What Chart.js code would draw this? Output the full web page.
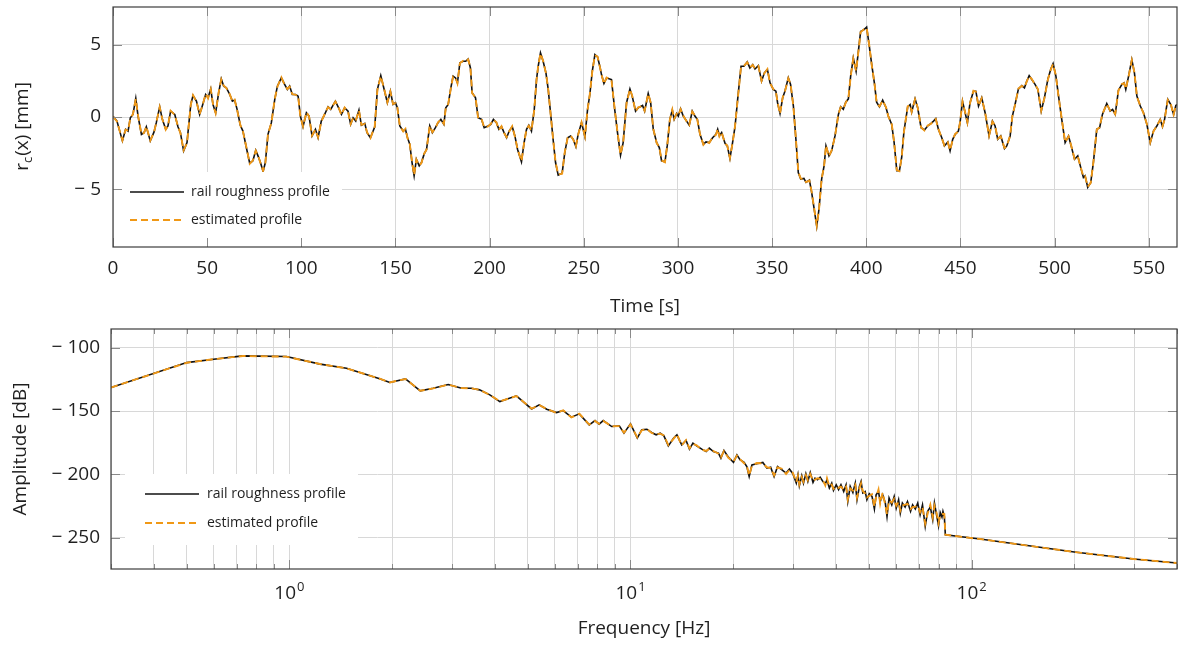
<!DOCTYPE html>
<html>
<head>
<meta charset="utf-8">
<script src="https://cdn.jsdelivr.net/npm/chart.js@4.4.1/dist/chart.umd.min.js"></script>
<style>
html, body { margin: 0; padding: 0; background: #fff; }
.panel { position: absolute; left: 0; width: 1178px; }
#topPanel { top: 0; height: 325px; }
#bottomPanel { top: 325px; height: 320px; }
</style>
</head>
<body>
<div class="panel" id="topPanel"><canvas id="profileChart"></canvas></div>
<div class="panel" id="bottomPanel"><canvas id="spectrumChart"></canvas></div>
<script>
// time axis [s]
var timeS = [
	0, 2.1, 5.0, 6.7, 8.0, 9.2, 10.6, 12.1, 13.3, 15.1, 16.5, 17.7, 19.8, 21.8, 23.0, 24.8, 26.2, 28.0, 29.2, 30.6, 32.8, 34.5, 35.8, 37.5, 39.3, 41.3, 42.5, 44.3, 46.0, 47.5, 49.2, 50.5, 51.9, 53.1, 54.5, 56.1, 57.5, 58.8, 60.2, 62.0, 63.4, 64.6, 65.9, 67.6, 69.0, 70.8, 72.6, 74.3, 75.8, 77.0, 78.3, 79.7, 80.9, 82.3, 84.1, 85.9, 87.3, 89.4, 91.2, 92.6, 93.8, 95.2, 97.0, 98.3, 99.5, 100.9, 102.7, 104.1, 105.7, 107.5, 108.9, 110.6, 112.4, 114.2, 115.6, 118.1, 119.8, 121.3, 123.0, 124.8, 126.2, 127.5, 128.9, 130.6, 131.9, 133.7, 134.9, 136.7, 139.0,
	140.4, 142.2, 144.0, 145.7, 147.3, 148.7, 150.0, 151.0, 152.3, 154.1, 155.3, 156.4, 157.6, 158.8, 159.9, 161.1, 162.6, 163.8, 165.2, 166.5, 168.2, 169.6, 171.2, 172.6, 174.1, 175.7, 176.7, 178.0, 179.4, 180.6, 181.9, 182.9, 184.2, 185.9, 187.3, 188.6, 189.8, 190.7, 192.5, 193.9, 195.7, 197.1, 199.2, 200.6, 202.0, 203.6, 204.9, 206.3, 207.5, 209.0, 210.4, 212.0, 213.4, 214.8, 216.9, 218.3, 219.6, 220.8, 222.2, 223.7, 224.9, 225.8, 227.0, 228.4, 229.9, 231.1, 232.5, 233.7, 235.0, 236.4, 238.5, 239.9, 241.4, 243.0, 244.4, 245.8, 247.0, 248.8, 250.6, 252.0, 253.2, 254.5, 255.9, 257.3, 258.5, 259.4, 260.7, 262.1, 264.7, 266.2, 267.9, 269.5, 270.9, 272.7, 274.5, 275.7, 277.5, 278.9,
	281.2, 282.3, 284.2, 285.5, 286.9, 288.7, 290.1, 291.3, 293.1, 294.3, 295.7, 297.0, 298.0, 299.3, 300.2, 301.4, 302.8, 304.6, 306.0, 307.6, 309.0, 310.3, 311.7, 313.5, 314.9, 316.6, 318.4, 320.2, 321.1, 322.0, 323.2, 325.0, 326.2, 327.6, 329.0, 330.3, 331.7, 333.5, 335.1, 336.8, 338.2, 339.7, 340.9, 342.7, 344.4, 345.9, 347.5, 348.9, 350.6, 352.0, 352.9, 354.2, 355.6, 356.8, 358.6, 359.8, 361.3, 362.5, 363.9, 365.2, 366.9, 368.0, 369.8, 371.0, 372.2, 373.7, 374.9, 376.3, 377.6, 378.6, 380.2, 381.6, 383.4, 385.2, 386.4, 387.8, 389.1, 390.5, 391.7, 393.1, 394.6, 395.8, 397.0, 398.8, 400.2, 401.5, 402.9, 404.3, 405.5, 407.0, 408.7, 410.5, 411.7, 413.5, 414.8, 416.2, 417.6, 418.8, 420.0,
	422.0, 423.3, 424.1, 425.9, 427.3, 429.1, 430.9, 432.6, 434.4, 435.7, 436.9, 438.3, 440.1, 441.5, 443.3, 444.5, 445.9, 447.2, 448.9, 449.8, 451.1, 452.5, 453.7, 455.1, 456.9, 458.2, 459.6, 461.3, 463.1, 465.2, 467.0, 468.4, 469.8, 471.4, 473.4, 474.6, 476.4, 477.6, 479.0, 480.8, 482.6, 484.0, 485.2, 486.5, 487.9, 489.7, 491.1, 492.9, 494.6, 496.4, 498.0, 499.2, 500.7, 502.1, 503.8, 505.6, 507.4, 508.8, 510.6, 512.3, 514.1, 515.3, 516.2, 517.6, 519.2, 520.6, 522.4, 523.9, 525.4, 527.7, 529.5, 530.8, 532.2, 533.9, 535.7, 536.9, 537.8, 539.3, 541.0, 542.4, 543.7, 545.5, 547.2, 549.0, 550.8, 552.5, 554.3, 556.1, 557.3, 558.4, 560.1, 561.7, 563.2, 564.4, 565.0
];

// rail roughness profile r_c(x) [mm]
var roughProfile = [
	0.05, -0.28, -1.65, -0.85, -0.97, -0.05, 0.18, 1.29, 0.07, -1.2, -1.08, -0.67, -1.65, -1.03, -0.39, 0.71, -0.16, -0.85, -0.62, 0.41, 0.18, -0.67, -1.08, -2.34, -1.77, 0.87, 1.49, 1.1, 0.18, 0.8, 1.56, 1.33, 1.95, 0.87, 0.3, 1.68, 2.64, 2.14, 2.02, 1.56, 1.1, 1.17, 0.53, -0.57, -0.97, -2.11, -3.2, -3.03, -2.3, -2.69, -3.15, -3.77, -3.15, -1.2, -0.39, 1.22, 2.14, 2.71, 2.25, 1.91, 2.14, 1.56, 1.56, 1.45, 0.07, -0.67, 0.3, 0.07, -1.31, -0.85, -1.43, -0.28, 0.18, 0.71, 0.53, 1.1, 0.64, 0.18, 0.64, 0.41, -0.51, -0.05, -0.28, 0.48, -0.57, -0.44, -1.08, -1.43, -0.68,
	1.91, 2.87, 1.91, 0.99, 1.79, 0.87, 0.99, 0.64, -0.62, -0.97, -0.85, -1.43, -1.89, -3.15, -4.07, -2.92, -3.38, -3.15, -2.57, -2.23, -0.62, -1.08, -0.74, -0.39, -0.16, -0.51, 0.64, 0.87, 2.02, 2.83, 2.71, 2.37, 3.75, 3.86, 3.86, 4.02, 3.4, 1.68, 1.33, -0.05, -0.16, -0.74, -0.62, -0.51, -0.16, -0.39, -0.85, -0.67, -1.03, -1.43, -0.97, -0.67, -1.31, -2.23, -3.1, -1.77, -0.85, -0.57, -0.97, 0.53, 2.6, 3.52, 4.44, 3.86, 3.06, 1.91, 0.07, -1.54, -3.15, -4.02, -3.89, -2.46, -1.43, -1.31, -1.54, -2.05, -1.2, -0.39, -1.36, 0.53, 1.56, 3.17, 4.32, 4.16, 3.52, 2.94, 2.32, 2.71, 2.6, 0.76, -1.08, -2.64, -1.77, 0.99, 1.95, 1.45, 0.41, 0.64,
	0.8, 0.41, 1.63, 0.99, -0.85, -1.77, -2.11, -3.03, -3.1, -2.0, -0.16, 0.48, -0.16, 0.25, 0.07, 0.57, 0.07, -0.28, -0.57, 0.41, 0.07, -0.16, -1.2, -1.89, -1.72, -1.77, -1.43, -1.2, -0.85, -1.31, -1.08, -1.82, -2.0, -2.87, -1.77, -0.67, 1.22, 3.52, 3.52, 3.82, 3.4, 3.63, 3.33, 3.56, 2.48, 3.06, 3.29, 2.37, 1.91, 1.79, 0.99, 0.25, 1.33, 1.79, 2.71, 2.25, 0.76, -1.31, -3.84, -4.3, -4.25, -4.53, -4.37, -5.22, -6.25, -7.56, -6.37, -4.3, -3.38, -2.0, -2.69, -2.34, -1.31, 0.18, 0.71, 0.53, 1.03, 1.26, 2.83, 4.09, 3.17, 4.55, 5.93, 6.05, 6.23, 5.01, 3.63, 2.37, 1.03, 0.71, 1.17, 0.64, 0.07, -0.51, -1.77, -3.72, -3.72, -2.8, -1.0,
	0.71, 0.87, 0.34, 1.26, 0.64, -0.74, -0.9, -0.62, -0.44, -0.28, -0.11, -0.85, -1.43, -2.0, -1.72, -2.34, -1.54, -1.2, -0.97, -0.39, 1.1, 0.3, -0.39, 0.99, 1.79, 1.79, 0.76, 1.33, 0.3, -1.31, -0.28, -0.62, -1.54, -1.31, -2.18, -2.0, -1.31, 0.07, 0.87, 1.95, 2.18, 2.02, 2.48, 2.87, 2.6, 2.25, 1.91, 0.41, 1.33, 2.6, 3.33, 3.7, 2.83, 1.45, -0.16, -1.77, -1.31, -2.0, -2.92, -2.69, -3.61, -4.18, -4.07, -4.87, -4.53, -3.15, -0.85, -0.74, 0.18, 0.94, 0.41, 0.53, 0.18, 1.86, 2.25, 2.37, 1.91, 2.83, 3.98, 3.06, 1.45, 0.76, 0.3, -0.51, -1.77, -0.97, -0.62, -0.16, -0.67, -0.16, 1.22, 0.87, 0.18, 0.8, 0.87
];

// estimated profile [mm]
var estProfile = [
	0.03, -0.3, -1.62, -0.87, -0.95, -0.08, 0.2, 1.25, 0.1, -1.18, -1.1, -0.65, -1.62, -1.05, -0.36, 0.68, -0.14, -0.88, -0.6, 0.44, 0.15, -0.65, -1.11, -2.3, -1.8, 0.85, 1.52, 1.07, 0.2, 0.78, 1.6, 1.3, 1.92, 0.9, 0.27, 1.7, 2.6, 2.17, 2.0, 1.58, 1.08, 1.2, 0.5, -0.55, -1.0, -2.08, -3.23, -3.0, -2.33, -2.66, -3.18, -3.72, -3.18, -1.17, -0.42, 1.25, 2.1, 2.74, 2.22, 1.94, 2.1, 1.59, 1.53, 1.48, 0.04, -0.64, 0.33, 0.04, -1.28, -0.88, -1.4, -0.31, 0.21, 0.68, 0.56, 1.07, 0.67, 0.15, 0.66, 0.38, -0.48, -0.08, -0.25, 0.45, -0.54, -0.47, -1.05, -1.46, -0.65,
	1.88, 2.83, 1.94, 1.02, 1.76, 0.9, 0.96, 0.67, -0.6, -1.0, -0.82, -1.46, -1.86, -3.12, -4.02, -2.95, -3.35, -3.18, -2.54, -2.26, -0.6, -1.05, -0.77, -0.36, -0.19, -0.48, 0.61, 0.9, 1.99, 2.8, 2.74, 2.34, 3.72, 3.89, 3.83, 3.98, 3.43, 1.65, 1.36, -0.08, -0.13, -0.71, -0.65, -0.48, -0.19, -0.36, -0.88, -0.64, -1.06, -1.4, -1.0, -0.64, -1.34, -2.2, -3.06, -1.8, -0.82, -0.6, -0.94, 0.5, 2.57, 3.55, 4.4, 3.89, 3.03, 1.94, 0.04, -1.51, -3.12, -3.98, -3.92, -2.43, -1.46, -1.28, -1.57, -2.02, -1.23, -0.36, -1.33, 0.5, 1.59, 3.14, 4.28, 4.19, 3.49, 2.97, 2.29, 2.74, 2.57, 0.79, -1.05, -2.6, -1.8, 0.96, 1.92, 1.48, 0.38, 0.67,
	0.77, 0.44, 1.6, 1.02, -0.82, -1.8, -2.08, -3.0, -3.13, -1.97, -0.19, 0.51, -0.13, 0.22, 0.1, 0.54, 0.1, -0.31, -0.54, 0.38, 0.1, -0.19, -1.17, -1.92, -1.69, -1.8, -1.4, -1.23, -0.82, -1.34, -1.05, -1.85, -1.97, -2.83, -1.8, -0.64, 1.19, 3.48, 3.55, 3.78, 3.43, 3.6, 3.36, 3.53, 2.51, 3.03, 3.32, 2.34, 1.94, 1.76, 1.02, 0.22, 1.36, 1.76, 2.68, 2.28, 0.73, -1.28, -3.8, -4.27, -4.28, -4.5, -4.4, -5.18, -6.2, -7.5, -6.4, -4.27, -3.41, -1.97, -2.72, -2.31, -1.34, 0.21, 0.68, 0.56, 1.0, 1.29, 2.8, 4.05, 3.2, 4.51, 5.88, 6.08, 6.18, 5.04, 3.6, 2.4, 1.0, 0.74, 1.14, 0.67, 0.04, -0.48, -1.74, -3.68, -3.75, -2.77, -1.03,
	0.74, 0.84, 0.37, 1.23, 0.67, -0.71, -0.93, -0.59, -0.47, -0.25, -0.14, -0.82, -1.46, -1.97, -1.75, -2.3, -1.57, -1.17, -1.0, -0.36, 1.07, 0.33, -0.36, 0.96, 1.82, 1.76, 0.79, 1.3, 0.33, -1.28, -0.31, -0.59, -1.51, -1.34, -2.14, -2.03, -1.28, 0.1, 0.84, 1.98, 2.15, 2.05, 2.45, 2.84, 2.63, 2.22, 1.94, 0.44, 1.3, 2.57, 3.3, 3.66, 2.86, 1.42, -0.13, -1.74, -1.34, -1.97, -2.89, -2.72, -3.58, -4.14, -4.1, -4.82, -4.56, -3.12, -0.88, -0.71, 0.21, 0.91, 0.44, 0.5, 0.21, 1.83, 2.28, 2.34, 1.94, 2.8, 3.94, 3.09, 1.42, 0.79, 0.27, -0.48, -1.74, -1.0, -0.59, -0.19, -0.64, -0.19, 1.19, 0.9, 0.15, 0.83, 0.84
];

// frequency axis [Hz]
var freqHz = [
	0.30, 0.50, 0.60, 0.73, 0.98, 1.23, 1.47, 1.84, 1.97, 2.19,
	2.42, 2.64, 2.92, 3.20, 3.42, 3.61, 3.87, 4.14, 4.63, 5.13,
	5.40, 5.68, 6.07, 6.35, 6.71, 7.08, 7.57, 7.87, 8.09, 8.32,
	8.81, 9.27, 9.57, 10.0, 10.47, 10.79, 11.17, 11.53, 11.89, 12.22,
	12.53, 12.91, 13.37, 13.68, 14.13, 14.55, 14.89, 15.24, 15.63, 16.18,
	16.67, 17.02, 17.50, 18.11, 18.41, 18.79, 19.36, 20.04, 20.51, 20.94,
	21.53, 21.93, 22.28, 22.70, 23.44, 24.43, 25.12, 25.76, 26.36, 26.98,
	27.80, 28.58, 29.24, 29.92, 30.62, 30.97, 31.26, 31.77, 32.14, 32.66,
	33.11, 33.65, 34.28, 34.75, 35.32, 35.97, 36.64, 37.24, 37.67, 38.28,
	38.90, 39.36, 40.09, 40.74, 41.40, 42.17, 42.85, 43.35, 44.06, 44.87,
	45.60, 46.13, 46.88, 47.42, 47.97, 48.75, 49.32, 50.12, 51.05, 51.88,
	52.48, 53.33, 53.95, 54.83, 55.85, 56.49, 57.28, 58.34, 59.29, 60.12,
	61.09, 61.80, 62.66, 63.83, 64.86, 66.22, 67.14, 68.39, 69.50, 70.63,
	71.78, 73.11, 74.30, 75.68, 76.91, 77.80, 79.07, 79.98, 80.91, 81.85,
	82.41, 83.18, 83.75, 105.9, 200, 298.5, 400
];

// amplitude spectrum [dB]
var roughSpec = [
	-131.5, -111.8, -109.2, -106.5, -107.0, -113.0, -116.2, -124.6, -127.5, -124.6,
	-134.1, -132.0, -129.1, -132.0, -132.0, -133.3, -137.2, -142.5, -138.0, -148.3,
	-145.1, -148.5, -151.2, -149.6, -154.8, -152.2, -160.9, -157.5, -160.3, -157.5,
	-162.2, -161.7, -167.4, -160.1, -171.3, -164.8, -164.3, -166.9, -168.7, -167.4,
	-169.5, -177.4, -171.4, -168.7, -176.6, -173.2, -180.0, -175.3, -177.4, -180.0,
	-181.9, -179.2, -181.9, -183.1, -187.1, -181.1, -186.3, -190.5, -184.5, -188.4,
	-190.5, -193.7, -201.6, -192.4, -191.6, -190.5, -195.0, -194.2, -201.6, -193.7,
	-196.3, -198.9, -195.7, -199.4, -206.8, -200.2, -208.9, -201.0, -206.8, -199.4,
	-205.5, -198.4, -206.3, -202.9, -204.2, -202.1, -205.5, -207.3, -204.2, -210.7,
	-206.8, -212.6, -208.1, -212.0, -208.1, -213.4, -208.1, -221.3, -209.4, -214.2,
	-206.8, -219.9, -209.4, -205.5, -214.6, -213.4, -219.9, -215.2, -217.3, -227.2,
	-216.0, -213.4, -221.3, -216.0, -222.5, -233.1, -218.6, -223.9, -217.3, -226.5,
	-219.9, -230.4, -222.5, -225.7, -221.3, -229.1, -223.9, -227.2, -222.5, -231.7,
	-223.9, -240.9, -229.1, -225.7, -235.7, -222.5, -233.1, -240.4, -229.9, -233.5,
	-229.1, -233.1, -247.5, -250.9, -261.1, -266.6, -269.8
];

var estSpec = [
	-131.4, -111.9, -109.1, -106.6, -107.1, -112.9, -116.3, -124.5, -127.4, -124.7,
	-134.0, -132.1, -129.2, -131.9, -132.1, -133.2, -137.3, -142.3, -138.2, -148.1,
	-145.3, -148.3, -151.4, -149.4, -155.0, -152.0, -160.6, -157.8, -160.0, -157.8,
	-162.0, -161.9, -167.0, -160.5, -170.8, -165.2, -164.0, -167.2, -168.4, -167.8,
	-169.2, -176.8, -171.9, -168.3, -177.1, -172.8, -179.4, -175.8, -177.0, -180.5,
	-181.4, -179.8, -181.5, -183.6, -186.5, -181.6, -186.9, -189.8, -185.1, -188.0,
	-191.1, -193.1, -200.9, -193.0, -191.0, -191.2, -194.3, -194.9, -200.8, -194.4,
	-195.6, -199.6, -196.4, -198.7, -205.9, -201.1, -207.8, -202.0, -205.7, -200.5,
	-204.4, -199.6, -205.0, -204.1, -203.0, -203.4, -204.3, -208.6, -203.0, -209.4,
	-208.0, -211.3, -209.5, -210.6, -209.6, -212.0, -209.6, -219.6, -210.9, -212.6,
	-208.4, -218.2, -211.0, -207.0, -213.0, -215.0, -218.2, -216.8, -215.6, -225.4,
	-217.7, -211.8, -223.0, -214.3, -224.2, -231.2, -220.4, -222.1, -219.1, -224.6,
	-221.7, -228.5, -224.4, -223.8, -223.2, -227.2, -225.8, -225.3, -224.4, -229.8,
	-225.8, -238.7, -231.0, -223.8, -233.6, -224.5, -231.0, -238.3, -231.9, -231.4,
	-231.0, -231.2, -247.5, -250.9, -261.1, -266.6, -269.8
];

var seriesNames = ['rail roughness profile', 'estimated profile'];

var FONT = '"Open Sans", "DejaVu Sans", sans-serif';
var INK = '#1f1f1f';
var GRID = '#d8d8d8';
var ORANGE = 'rgb(240,152,22)';

Chart.defaults.font.family = FONT;
Chart.defaults.color = INK;

function points(xs, ys)
{
	return xs.map(function (x, i) { return {x: x, y: ys[i]}; });
}

function minusLabel(value)
{
	return value < 0 ? '\u2212 ' + (-value) : String(value);
}

function isDecade(v)
{
	var l = Math.log10(v);
	return Math.abs(l - Math.round(l)) < 1e-9;
}

function lineSets(xs, a, b)
{
	return [
		{label: seriesNames[0], data: points(xs, a), borderColor: '#111', borderWidth: 1.6, order: 1},
		{label: seriesNames[1], data: points(xs, b), borderColor: ORANGE, borderWidth: 1.9, borderDash: [7, 4], order: 0}
	];
}

// fixed axis boxes, no edge padding for labels
function fixWidth(w)
{
	return function (s) { s.width = w; s.paddingTop = 0; s.paddingBottom = 0; };
}

function fixHeight(h)
{
	return function (s) { s.height = h; s.paddingLeft = 0; s.paddingRight = 0; };
}

// white inset legend drawn over the curves
var insetLegend = {
	id: 'insetLegend',
	afterDatasetsDraw: function (chart, args, opts)
	{
		var ctx = chart.ctx;
		ctx.save();
		ctx.fillStyle = '#fff';
		ctx.fillRect(opts.box[0], opts.box[1], opts.box[2], opts.box[3]);
		chart.data.datasets.forEach(function (ds, i)
		{
			var y = opts.rows[i];
			ctx.beginPath();
			ctx.strokeStyle = ds.borderColor;
			ctx.lineWidth = ds.borderWidth;
			ctx.setLineDash(ds.borderDash || []);
			ctx.moveTo(opts.lineX[0], y);
			ctx.lineTo(opts.lineX[1], y);
			ctx.stroke();
			ctx.setLineDash([]);
			ctx.fillStyle = INK;
			ctx.font = '14px ' + FONT;
			ctx.textBaseline = 'middle';
			ctx.fillText(ds.label, opts.textX, y);
		});
		ctx.restore();
	}
};

// box frame plus inward tick marks on all four sides
var frame = {
	id: 'frame',
	afterDraw: function (chart)
	{
		var ctx = chart.ctx, a = chart.chartArea;
		var xs = chart.scales.x, ys = chart.scales.y;
		ctx.save();
		ctx.strokeStyle = '#8a8a8a';
		ctx.lineWidth = 1;
		xs.ticks.forEach(function (t)
		{
			var len = (xs.type !== 'logarithmic' || isDecade(t.value)) ? 9 : 5;
			var px = Math.round(xs.getPixelForValue(t.value)) + 0.5;
			ctx.beginPath();
			ctx.moveTo(px, a.bottom); ctx.lineTo(px, a.bottom - len);
			ctx.moveTo(px, a.top); ctx.lineTo(px, a.top + len);
			ctx.stroke();
		});
		ys.ticks.forEach(function (t)
		{
			var py = Math.round(ys.getPixelForValue(t.value)) + 0.5;
			ctx.beginPath();
			ctx.moveTo(a.left, py); ctx.lineTo(a.left + 9, py);
			ctx.moveTo(a.right, py); ctx.lineTo(a.right - 9, py);
			ctx.stroke();
		});
		ctx.strokeStyle = '#3c3c3c';
		ctx.lineWidth = 1.2;
		ctx.strokeRect(a.left, a.top, a.right - a.left, a.bottom - a.top);
		ctx.restore();
	}
};

// y title with subscript: r_c(x) [mm]
var subTitle = {
	id: 'subTitle',
	afterDraw: function (chart, args, opts)
	{
		if (!opts.base)
			return;
		var ctx = chart.ctx, a = chart.chartArea;
		var big = '19px ' + FONT, small = '13px ' + FONT;
		ctx.save();
		ctx.translate(opts.x, (a.top + a.bottom) / 2);
		ctx.rotate(-Math.PI / 2);
		ctx.fillStyle = INK;
		ctx.textBaseline = 'middle';
		ctx.font = big;
		var w1 = ctx.measureText(opts.base).width;
		var w3 = ctx.measureText(opts.rest).width;
		ctx.font = small;
		var w2 = ctx.measureText(opts.sub).width;
		var x = -(w1 + w2 + w3) / 2;
		ctx.font = big;
		ctx.fillText(opts.base, x, 0);
		ctx.font = small;
		ctx.fillText(opts.sub, x + w1, 5);
		ctx.font = big;
		ctx.fillText(opts.rest, x + w1 + w2 + 1, 0);
		ctx.restore();
	}
};

// decade labels 10^k under the log axis
var decadeLabels = {
	id: 'decadeLabels',
	afterDraw: function (chart, args, opts)
	{
		if (!opts.y)
			return;
		var ctx = chart.ctx, xs = chart.scales.x;
		ctx.save();
		ctx.fillStyle = INK;
		ctx.textBaseline = 'alphabetic';
		xs.ticks.forEach(function (t)
		{
			if (!isDecade(t.value))
				return;
			var e = String(Math.round(Math.log10(t.value)));
			ctx.font = '19px ' + FONT;
			var wb = ctx.measureText('10').width;
			ctx.font = '13px ' + FONT;
			var we = ctx.measureText(e).width;
			var x0 = xs.getPixelForValue(t.value) - (wb + we + 1) / 2;
			ctx.font = '19px ' + FONT;
			ctx.fillText('10', x0, opts.y);
			ctx.font = '13px ' + FONT;
			ctx.fillText(e, x0 + wb + 1, opts.y - 8);
		});
		ctx.restore();
	}
};

Chart.register(insetLegend, frame, subTitle, decadeLabels);

var common = {
	responsive: true,
	maintainAspectRatio: false,
	animation: false,
	devicePixelRatio: 1,
	elements: {point: {radius: 0}, line: {tension: 0}}
};

new Chart(document.getElementById('profileChart'), {
	type: 'line',
	data: {datasets: lineSets(timeS, roughProfile, estProfile)},
	options: Object.assign({}, common, {
		layout: {padding: {top: 7, right: 1, left: 0, bottom: 0}},
		plugins: {
			legend: {display: false},
			tooltip: {enabled: false},
			insetLegend: {box: [114, 172, 228, 74], lineX: [130, 184], textX: 191, rows: [192, 220]},
			subTitle: {x: 23, base: 'r', sub: 'c', rest: '(x) [mm]'},
			decadeLabels: {}
		},
		scales: {
			x: {
				type: 'linear', min: 0, max: 565,
				ticks: {stepSize: 50, includeBounds: false, padding: 10, maxRotation: 0, font: {size: 19}},
				grid: {color: GRID, drawTicks: false},
				border: {display: false},
				title: {display: true, text: 'Time [s]', font: {size: 19}, padding: {top: 0, bottom: 7}},
				afterFit: fixHeight(78)
			},
			y: {
				min: -9, max: 7.62,
				ticks: {stepSize: 5, includeBounds: false, padding: 12, font: {size: 19}, callback: minusLabel},
				grid: {color: GRID, drawTicks: false},
				border: {display: false},
				afterFit: fixWidth(113)
			}
		}
	})
});

new Chart(document.getElementById('spectrumChart'), {
	type: 'line',
	data: {datasets: lineSets(freqHz, roughSpec, estSpec)},
	options: Object.assign({}, common, {
		layout: {padding: {top: 4, right: 1, left: 0, bottom: 0}},
		plugins: {
			legend: {display: false},
			tooltip: {enabled: false},
			insetLegend: {box: [125, 149, 233, 71], lineX: [145, 199], textX: 207, rows: [169, 198]},
			subTitle: {},
			decadeLabels: {y: 274}
		},
		scales: {
			x: {
				type: 'logarithmic', min: 0.3, max: 400,
				afterBuildTicks: function (axis)
				{
					axis.ticks = axis.ticks.filter(function (t)
					{
						var m = t.value / Math.pow(10, Math.floor(Math.log10(t.value) + 1e-9));
						return Math.abs(m - Math.round(m)) < 1e-6;
					});
				},
				ticks: {autoSkip: false, maxRotation: 0, callback: function () { return ''; }},
				grid: {color: GRID, drawTicks: false},
				border: {display: false},
				title: {display: true, text: 'Frequency [Hz]', font: {size: 19}, padding: {top: 0, bottom: 5}},
				afterFit: fixHeight(76)
			},
			y: {
				min: -274.5, max: -85.3,
				ticks: {stepSize: 50, includeBounds: false, padding: 11, font: {size: 19}, callback: minusLabel},
				grid: {color: GRID, drawTicks: false},
				border: {display: false},
				title: {display: true, text: 'Amplitude [dB]', font: {size: 19}, padding: {top: 9, bottom: 0}},
				afterFit: fixWidth(111)
			}
		}
	})
});
</script>
</body>
</html>
